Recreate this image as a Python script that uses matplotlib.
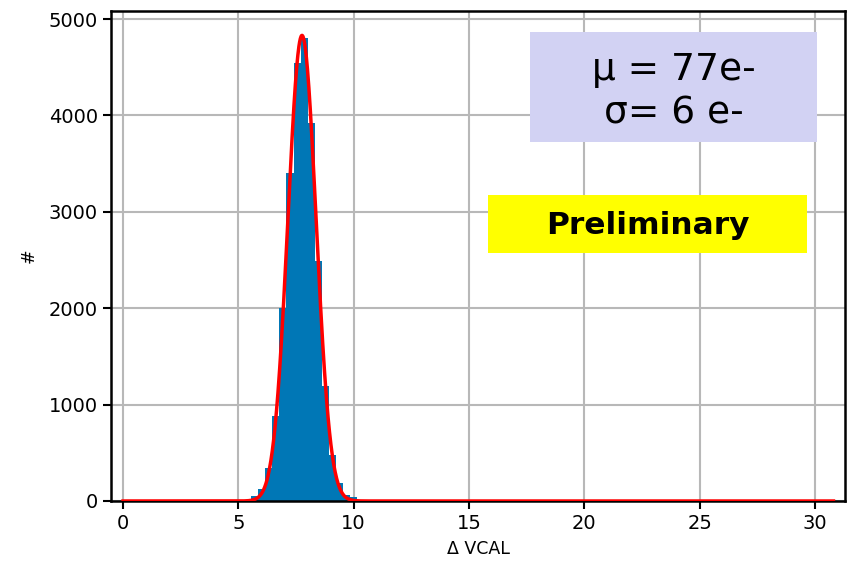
import numpy as np
import matplotlib
matplotlib.use('Agg')
import matplotlib.pyplot as plt
from matplotlib.patches import Rectangle

# histogram: 100 bins from 0 to 30.8 (Delta VCAL)
bin_edges = np.linspace(0, 30.8, 101)
counts = np.zeros(100)
first_bin = 17
filled = [10, 52, 121, 339, 882, 1999, 3406, 4547, 4800, 3925,
          2493, 1193, 477, 190, 60, 40, 15, 12]
counts[first_bin:first_bin + len(filled)] = filled

# gaussian fit parameters
fit_amp = 4830
fit_mean = 7.76
fit_sigma = 0.61

fig = plt.figure(figsize=(8.51, 5.64), dpi=100)
ax = fig.add_axes([111/851, 1 - 501/564, 734/851, 490/564])

ax.stairs(counts, bin_edges, fill=True, color='#0077b6', zorder=2)
xfit = np.linspace(0, 30.8, 2000)
yfit = fit_amp * np.exp(-0.5 * ((xfit - fit_mean) / fit_sigma) ** 2)
ax.plot(xfit, yfit, color='red', linewidth=2.5, zorder=3)

ax.set_xlim(-0.52, 31.3)
ax.set_ylim(0, 5083)
ax.set_xticks([0, 5, 10, 15, 20, 25, 30])
ax.set_yticks([0, 1000, 2000, 3000, 4000, 5000])
ax.grid(True, color='#b8b8b8', linewidth=1.5, zorder=0)
ax.set_axisbelow(True)
for s in ax.spines.values():
    s.set_linewidth(1.8)
ax.tick_params(labelsize=14, width=1.5, length=6)
ax.set_xlabel('Δ VCAL', fontsize=12.5, labelpad=5)
ax.set_ylabel('#', fontsize=12.5, labelpad=8)

ax.add_patch(Rectangle((0.571, 0.733), 0.391, 0.224, transform=ax.transAxes,
                       facecolor='#d2d2f3', edgecolor='none', zorder=4))
ax.text(0.7665, 0.88, 'μ = 77e-', transform=ax.transAxes, ha='center', va='center',
        fontsize=27, zorder=5)
ax.text(0.7665, 0.79, 'σ= 6 e-', transform=ax.transAxes, ha='center', va='center',
        fontsize=27, zorder=5)

ax.add_patch(Rectangle((0.514, 0.506), 0.434, 0.118, transform=ax.transAxes,
                       facecolor='#ffff00', edgecolor='none', zorder=4))
ax.text(0.731, 0.563, 'Preliminary', transform=ax.transAxes, ha='center', va='center',
        fontsize=22.5, fontweight='bold', zorder=5)

fig.savefig('out.png', dpi=100)
